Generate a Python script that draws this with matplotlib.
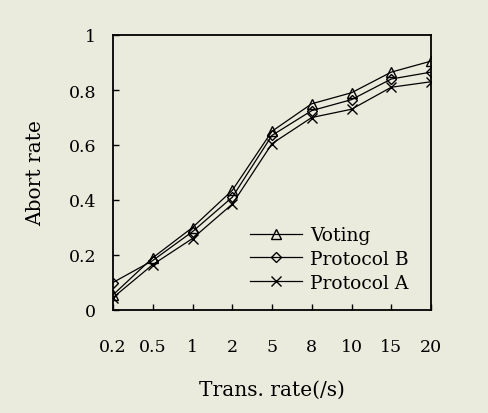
import matplotlib.pyplot as plt

# data
rates = ["0.2", "0.5", "1", "2", "5", "8", "10", "15", "20"]
voting = [0.055, 0.19, 0.30, 0.435, 0.65, 0.75, 0.79, 0.865, 0.905]
protocol_b = [0.10, 0.18, 0.285, 0.41, 0.635, 0.725, 0.765, 0.84, 0.865]
protocol_a = [0.045, 0.165, 0.26, 0.385, 0.605, 0.70, 0.73, 0.81, 0.83]

BG = "#EBEBDD"
FONT = "DejaVu Serif"

plt.rcParams["font.family"] = FONT
plt.rcParams["font.size"] = 12.5

fig = plt.figure(figsize=(4.89, 4.14), dpi=100, facecolor=BG)
ax = fig.add_axes([113 / 489, 1 - 311 / 414, 318 / 489, 275 / 414], facecolor=BG)

x = range(len(rates))
style = dict(color="black", lw=0.9, markersize=6.5, markerfacecolor="none",
             markeredgecolor="black", markeredgewidth=1.0)
ax.plot(x, voting, marker="^", label="Voting", **style)
ax.plot(x, protocol_b, marker="D", label="Protocol B", **dict(style, markersize=5.5))
ax.plot(x, protocol_a, marker="x", label="Protocol A", **style)

ax.set_xlim(0, len(rates) - 1)
ax.set_ylim(0, 1)
ax.set_xticks(list(x))
ax.set_xticklabels(rates)
ax.set_yticks([0, 0.2, 0.4, 0.6, 0.8, 1])
ax.set_yticklabels(["0", "0.2", "0.4", "0.6", "0.8", "1"])

ax.tick_params(axis="x", direction="in", length=4, width=1, pad=20)
ax.tick_params(axis="y", direction="in", length=4, width=1, pad=12)
for s in ax.spines.values():
    s.set_linewidth(1.3)

ax.set_xlabel("Trans. rate(/s)", fontsize=14.5)
ax.set_ylabel("Abort rate", fontsize=14.5)
ax.xaxis.set_label_coords(0.5, -0.255)
ax.yaxis.set_label_coords(-0.214, 0.5)

ax.legend(loc="upper left", bbox_to_anchor=(0.43, 0.304), frameon=False,
          fontsize=13.5, handlelength=2.8, handletextpad=0.4, labelspacing=0.3,
          borderpad=0, borderaxespad=0)

fig.savefig("out.png", dpi=100, facecolor=BG)
